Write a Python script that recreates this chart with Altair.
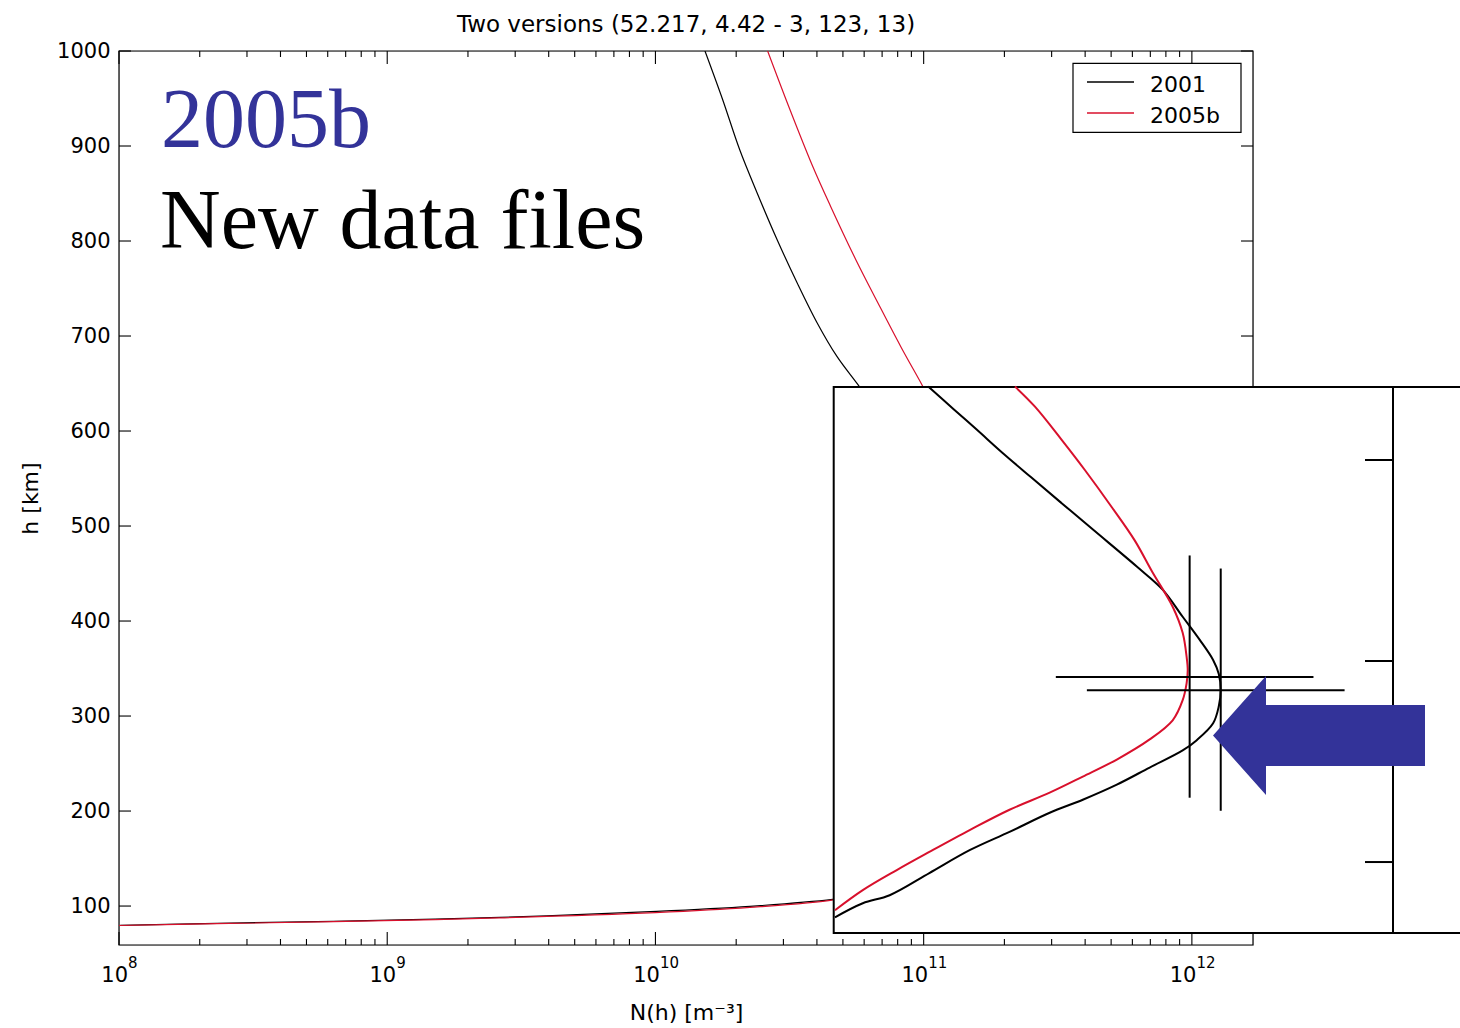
import altair as alt
import pandas as pd

# ---------------- data ----------------
series_names = ["2001", "2005b"]

# main panel profiles (N in m^-3, h in km); middle part lies behind the inset (estimated)
main_2001_N = [1.01e8, 2.32e8, 6.28e8, 2.63e9, 1.01e10, 2.25e10, 4.58e10, 6.0e10, 1.5e11, 5.0e11,
               1.1e12, 1.28e12, 1.1e12, 6.0e11, 2.0e11, 7.1e10, 5.68e10, 4.75e10, 4.00e10, 3.37e10,
               2.84e10, 2.39e10, 2.06e10, 1.78e10, 1.53e10]
main_2001_h = [79.7, 81.8, 83.9, 88.1, 94.4, 99.7, 107.0, 112, 140, 200,
               280, 320, 360, 430, 520, 612, 649.0, 678.5, 714.3, 756.4,
               801.6, 851.1, 896.3, 949.0, 1000.0]
main_2005b_N = [1.0e8, 2.3e8, 6.3e8, 2.6e9, 1.0e10, 2.25e10, 4.6e10, 5.5e10, 1.0e11, 3.0e11,
                8.0e11, 1.0e12, 9.0e11, 5.0e11, 2.0e11, 1.16e11, 9.84e10, 8.21e10, 6.74e10, 5.58e10,
                4.50e10, 3.86e10, 3.14e10, 2.62e10]
main_2005b_h = [79.5, 81.5, 83.5, 87.5, 93.0, 98.5, 106.5, 112, 140, 200,
                280, 340, 410, 500, 575, 612, 649.0, 689.0, 735.3, 780.6,
                836.4, 878.4, 941.6, 1000.0]

# inset (magnified picture): its own height scale
inset_2001_N = [4.67e10, 5.93e10, 7.47e10, 1.05e11, 1.49e11, 2.09e11, 2.95e11, 3.92e11, 5.25e11,
                6.96e11, 9.24e11, 1.04e12, 1.20e12, 1.26e12, 1.28e12, 1.26e12, 1.20e12, 1.07e12,
                9.24e11, 7.78e11, 6.23e11, 4.31e11, 3.27e11, 2.51e11, 1.97e11, 1.58e11, 1.30e11,
                1.04e11]
inset_2001_h = [145, 159, 167, 189, 212, 230, 249, 262, 277,
                294, 311, 321, 338, 355, 371, 387, 401, 421,
                444, 471, 494, 530, 557, 583, 607, 630, 650,
                673]
inset_2005b_N = [4.67e10, 5.93e10, 7.94e10, 1.05e11, 1.49e11, 2.09e11, 2.95e11, 3.92e11, 5.25e11,
                 6.96e11, 8.48e11, 9.24e11, 9.56e11, 9.65e11, 9.56e11, 9.24e11, 8.48e11, 7.14e11,
                 6.12e11, 5.03e11, 3.99e11, 3.27e11, 2.60e11, 2.19e11]
inset_2005b_h = [152, 172, 192, 210, 232, 252, 269, 285, 302,
                 322, 341, 361, 378, 391, 404, 428, 454, 488,
                 520, 553, 590, 620, 653, 673]

# peak cross-hairs in the inset
cross_N = [9.81e11, 1.281e12]
cross_h = [384, 371]
cross_N_lo = [3.11e11, 4.06e11]
cross_N_hi = [2.84e12, 3.71e12]
cross_h_lo = [264, 251]
cross_h_hi = [505, 492]

# inset frame extent and its own axis ticks
inset_N_extent = [4.62e10, 2.0e13]
inset_h_extent = [129.4, 672.6]
inset_ticks = [200, 400, 600]

# axes
x_major = [1e8, 1e9, 1e10, 1e11, 1e12]
x_exponents = ["8", "9", "10", "11", "12"]
x_minor = [m * 10.0 ** e for e in range(8, 12) for m in range(2, 10)]
y_major = [100, 200, 300, 400, 500, 600, 700, 800, 900, 1000]

title_text = "Two versions (52.217, 4.42 - 3, 123, 13)"

# ---------------- styling ----------------
W, H = 1134, 894
FONT = "DejaVu Sans"
SERIF = "Liberation Serif"
RED = "#d8102c"
BLUE = "#333399"

x_scale = alt.Scale(type="log", domain=[1e8, 1.69e12], nice=False)
y_scale = alt.Scale(domain=[59, 1000], nice=False, zero=False)
yi_scale = alt.Scale(domain=inset_h_extent, range=[882, 336], nice=False, zero=False)
color_scale = alt.Scale(domain=series_names, range=["black", RED])

x_axis = alt.Axis(values=x_major, labels=False, ticks=False, tickSize=0, domain=False, grid=False,
                  title="N(h) [m⁻³]", titleFont=FONT, titleFontSize=22, titleFontWeight="normal",
                  titleColor="black", titlePadding=57)
y_axis = alt.Axis(values=y_major, format="d", ticks=False, tickSize=0, domain=False, grid=False,
                  labelFont=FONT, labelFontSize=21, labelColor="black", labelPadding=9,
                  title="h [km]", titleFont=FONT, titleFontSize=22, titleFontWeight="normal",
                  titleColor="black", titlePadding=14)


def X(f):
    return alt.X(f, type="quantitative", scale=x_scale, axis=x_axis)


def Y(f):
    return alt.Y(f, type="quantitative", scale=y_scale, axis=y_axis)


def YI(f):
    return alt.Y(f, type="quantitative", scale=yi_scale, axis=None)


def profile_df(names, Ns, hs):
    rows = []
    for name, n_list, h_list in zip(names, Ns, hs):
        for i, (n, h) in enumerate(zip(n_list, h_list)):
            rows.append({"series": name, "N": n, "h": h, "i": i})
    return pd.DataFrame(rows)


one = pd.DataFrame({"k": [0]})
main_df = profile_df(series_names, [main_2001_N, main_2005b_N], [main_2001_h, main_2005b_h])
inset_df = profile_df(series_names, [inset_2001_N, inset_2005b_N], [inset_2001_h, inset_2005b_h])
xmaj_df = pd.DataFrame({"N": x_major, "exp": x_exponents, "nd": [len(e) for e in x_exponents]})
xmin_df = pd.DataFrame({"N": x_minor})
ymaj_df = pd.DataFrame({"h": y_major})
cross_df = pd.DataFrame({"N": cross_N, "h": cross_h, "Nlo": cross_N_lo, "Nhi": cross_N_hi,
                         "hlo": cross_h_lo, "hhi": cross_h_hi})
box_df = pd.DataFrame({"N0": [inset_N_extent[0]], "N1": [inset_N_extent[1]],
                       "h0": [inset_h_extent[0]], "h1": [inset_h_extent[1]]})
itick_df = pd.DataFrame({"h": inset_ticks})

# ---------------- main panel ----------------
frame = alt.Chart(one).mark_rect(fillOpacity=0, stroke="black", strokeWidth=1.2).encode(
    x=alt.value(0), x2=alt.value(W), y=alt.value(0), y2=alt.value(H))

tk = dict(color="black", strokeWidth=1.1)
t_bot_maj = alt.Chart(xmaj_df).mark_rule(**tk).encode(x=X("N"), y=alt.value(H), y2=alt.value(H - 13))
t_top_maj = alt.Chart(xmaj_df).mark_rule(**tk).encode(x=X("N"), y=alt.value(0), y2=alt.value(13))
t_bot_min = alt.Chart(xmin_df).mark_rule(**tk).encode(x=X("N"), y=alt.value(H), y2=alt.value(H - 6))
t_top_min = alt.Chart(xmin_df).mark_rule(**tk).encode(x=X("N"), y=alt.value(0), y2=alt.value(6))
t_left = alt.Chart(ymaj_df).mark_rule(**tk).encode(y=Y("h"), x=alt.value(0), x2=alt.value(12))
t_right = alt.Chart(ymaj_df).mark_rule(**tk).encode(y=Y("h"), x=alt.value(W), x2=alt.value(W - 12))

main_lines = alt.Chart(main_df).mark_line(strokeWidth=1.2, clip=True, interpolate="catmull-rom").encode(
    x=X("N"), y=Y("h"),
    color=alt.Color("series:N", scale=color_scale, legend=None),
    order=alt.Order("i:Q"))

lab = dict(font=FONT, color="black", baseline="alphabetic")
base1 = alt.Chart(xmaj_df).transform_filter("datum.nd == 1").mark_text(
    align="right", dx=9, fontSize=21, text="10", **lab).encode(x=X("N"), y=alt.value(931))
exp1 = alt.Chart(xmaj_df).transform_filter("datum.nd == 1").mark_text(
    align="left", dx=9, fontSize=15, **lab).encode(x=X("N"), y=alt.value(917), text="exp:N")
base2 = alt.Chart(xmaj_df).transform_filter("datum.nd == 2").mark_text(
    align="right", dx=4.5, fontSize=21, text="10", **lab).encode(x=X("N"), y=alt.value(931))
exp2 = alt.Chart(xmaj_df).transform_filter("datum.nd == 2").mark_text(
    align="left", dx=4.5, fontSize=15, **lab).encode(x=X("N"), y=alt.value(917), text="exp:N")

# title drawn as a text mark centred over the plot
title_mark = alt.Chart(one).mark_text(align="center", fontSize=23, text=title_text, **lab).encode(
    x=alt.value(W / 2), y=alt.value(-19.5))

# legend (drawn by hand, matlab style)
leg_box = alt.Chart(one).mark_rect(fill="white", stroke="black", strokeWidth=1.2).encode(
    x=alt.value(954), x2=alt.value(1122), y=alt.value(12.3), y2=alt.value(81.3))
leg_l1 = alt.Chart(one).mark_rule(color="black", strokeWidth=1.3).encode(
    x=alt.value(968), x2=alt.value(1015), y=alt.value(31))
leg_l2 = alt.Chart(one).mark_rule(color=RED, strokeWidth=1.3).encode(
    x=alt.value(968), x2=alt.value(1015), y=alt.value(62))
leg_t1 = alt.Chart(one).mark_text(align="left", fontSize=22, text=series_names[0], **lab).encode(
    x=alt.value(1031), y=alt.value(40.7))
leg_t2 = alt.Chart(one).mark_text(align="left", fontSize=22, text=series_names[1], **lab).encode(
    x=alt.value(1031), y=alt.value(72.3))

note1 = alt.Chart(one).mark_text(align="left", baseline="alphabetic", font=SERIF, fontSize=84,
                                 color=BLUE, text="2005b").encode(x=alt.value(42), y=alt.value(96))
note2 = alt.Chart(one).mark_text(align="left", baseline="alphabetic", font=SERIF, fontSize=84,
                                 color="black", text="New data files").encode(x=alt.value(41), y=alt.value(197))

main = alt.layer(frame, t_bot_maj, t_top_maj, t_bot_min, t_top_min, t_left, t_right,
                 main_lines, base1, exp1, base2, exp2, title_mark,
                 leg_box, leg_l1, leg_l2, leg_t1, leg_t2, note1, note2)

# ---------------- inset (magnified picture) ----------------
inset_box = alt.Chart(box_df).mark_rect(fill="white", stroke="black", strokeWidth=2).encode(
    x=X("N0"), x2=alt.X2("N1"), y=YI("h0"), y2=alt.Y2("h1"))
inset_axis = alt.Chart(box_df).mark_rule(color="black", strokeWidth=2).encode(
    x=alt.value(1274), y=YI("h0"), y2=alt.Y2("h1"))
inset_tk = alt.Chart(itick_df).mark_rule(color="black", strokeWidth=2).encode(
    x=alt.value(1246), x2=alt.value(1274), y=YI("h"))
inset_lines = alt.Chart(inset_df).mark_line(strokeWidth=2, interpolate="catmull-rom").encode(
    x=X("N"), y=YI("h"),
    color=alt.Color("series:N", scale=color_scale, legend=None),
    order=alt.Order("i:Q"))
cross_hz = alt.Chart(cross_df).mark_rule(color="black", strokeWidth=2).encode(
    x=X("Nlo"), x2=alt.X2("Nhi"), y=YI("h"))
cross_vt = alt.Chart(cross_df).mark_rule(color="black", strokeWidth=2).encode(
    x=X("N"), y=YI("hlo"), y2=alt.Y2("hhi"))

ARROW = "M -1 0 L -0.5 -0.561 L -0.5 -0.288 L 1 -0.288 L 1 0.288 L -0.5 0.288 L -0.5 0.561 Z"
arrow = alt.Chart(one).mark_point(shape=ARROW, size=44944, filled=True, color=BLUE,
                                  opacity=1, strokeWidth=0).encode(
    x=alt.value(1200), y=alt.value(684.5))

inset = alt.layer(inset_box, inset_axis, inset_tk, inset_lines, cross_hz, cross_vt, arrow)

chart = alt.layer(main, inset).resolve_scale(y="independent").properties(
    width=W, height=H,
    padding={"left": 119, "top": 51, "right": 207, "bottom": 83},
    autosize=alt.AutoSizeParams(type="none"),
).configure_view(stroke=None).configure(background="white")

chart.save("out.html", embed_options={"renderer": "svg", "actions": False})
